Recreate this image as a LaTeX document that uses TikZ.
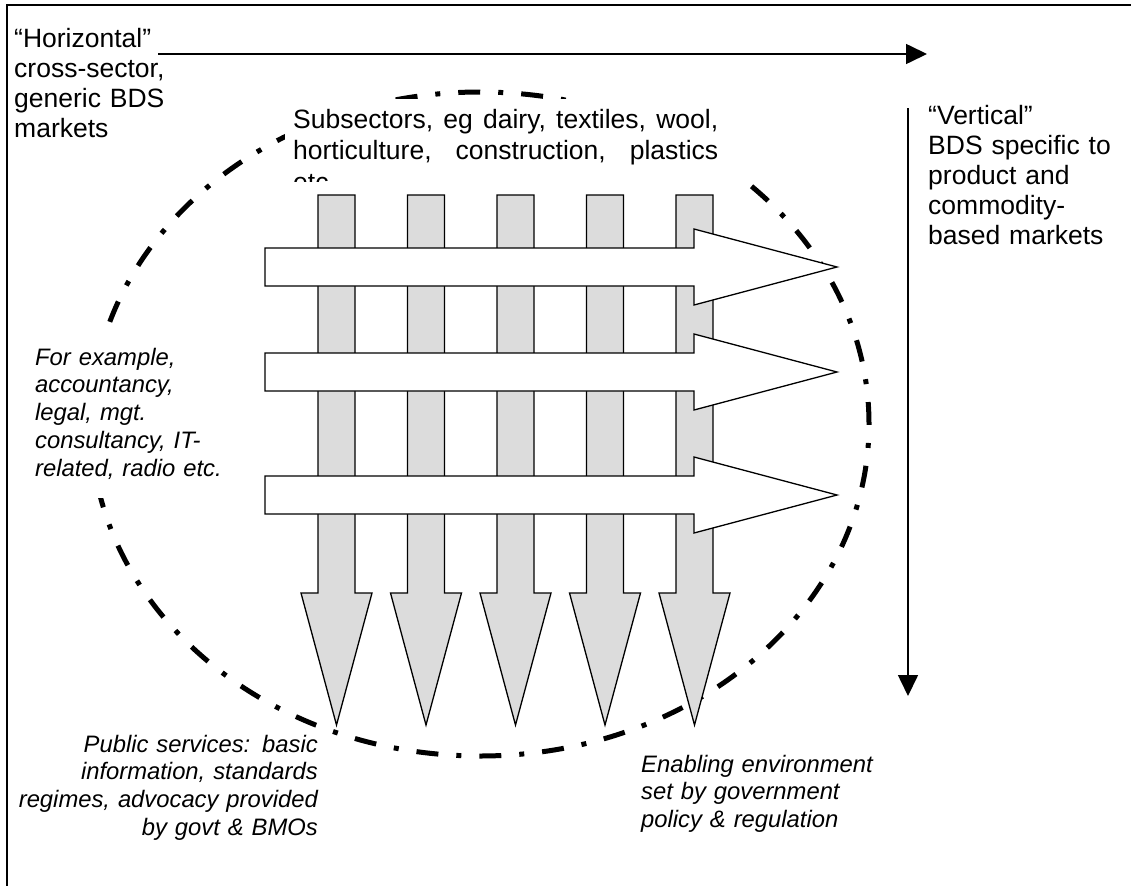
\documentclass[tikz,border=0pt]{standalone}
\usepackage{fontspec}
\usepackage{xcolor}
\usepackage{tikz}
\usetikzlibrary{arrows.meta}
\setmainfont{Liberation Sans}
\definecolor{shaftgray}{HTML}{DCDCDC}

\begin{document}
\begin{tikzpicture}[x=1pt,y=-1pt,
    label/.style={font=\fontsize{26.5}{30}\selectfont,inner sep=0pt,align=left},
    note/.style={font=\fontsize{23.8}{27.8}\selectfont\itshape,inner sep=0pt,align=left},
    axisarrow/.style={line width=1.6pt,-{Triangle[width=20pt,length=21pt]}},
    downarrow/.style={draw=black,fill=shaftgray,line width=1.3pt},
    acrossarrow/.style={draw=black,fill=white,line width=1.3pt},
    ring/.style={line width=5pt,dash pattern=on 22pt off 18pt on 5pt off 18pt}]
        \useasboundingbox (0,0) rectangle (1131,886);
        \draw[line width=2pt] (1131,4.5)--(6.5,4.5)--(6.5,886);
        % market boundary
        \draw[ring] (480,424) ellipse [x radius=389pt, y radius=332pt];
        \fill[white] (285,99) rectangle (740,183);
        \fill[white] (28,337) rectangle (255,498);
        % labels
        \node[label,anchor=base west,text width=250pt] (horiz) at (14,47) {“Horizontal”\\cross-sector,\\generic BDS\\markets};
        \node[label,anchor=base west,text width=200pt] (vert) at (928,124) {“Vertical”\\BDS specific to\\product and\\commodity-\\based markets};
        \begin{scope}
            \clip (285,99) rectangle (740,181);
            \node[label,anchor=base west,text width=425pt,font=\fontsize{26.5}{31.5}\selectfont] (subsec) at (293,128)
                {\makebox[425pt][l]{Subsectors,\hfill eg\hfill dairy,\hfill textiles,\hfill wool,}\\\makebox[425pt][l]{horticulture,\hfill construction,\hfill plastics}\\etc};
        \end{scope}
        \node[note,anchor=base west,text width=220pt] (generic) at (35,365) {For example,\\accountancy,\\legal, mgt.\\consultancy, IT-\\related, radio etc.};
        \node[note,anchor=base east,text width=310pt,align=right] (public) at (318,752) {Public services: basic\\information, standards\\regimes, advocacy provided\\by govt \& BMOs};
        \node[note,anchor=base west,text width=260pt] (enabling) at (641,772) {Enabling environment\\set by government\\policy \& regulation};
        % subsector arrows
        \foreach \i in {0,...,4}{
            \pgfmathsetmacro{\cx}{336.5+89.5*\i}
            \draw[downarrow] (\cx-18.5,195)--(\cx+18.5,195)--(\cx+18.5,593)--(\cx+35.5,593)--(\cx,725)--(\cx-35.5,593)--(\cx-18.5,593)--cycle;
        }
        % cross-sector arrows
        \foreach \cy in {267,372,495}{
            \draw[acrossarrow] (265,\cy-19)--(694,\cy-19)--(694,\cy-38)--(837,\cy)--(694,\cy+38)--(694,\cy+19)--(265,\cy+19)--cycle;
        }
        \coordinate (hzfrom) at (158,54);
        \coordinate (hzto) at (927,54);
        \coordinate (vtfrom) at (908,108);
        \coordinate (vtto) at (908,696);
        \draw[axisarrow] (hzfrom)--(hzto);
        \draw[axisarrow] (vtfrom)--(vtto);
    \end{tikzpicture}
\end{document}
